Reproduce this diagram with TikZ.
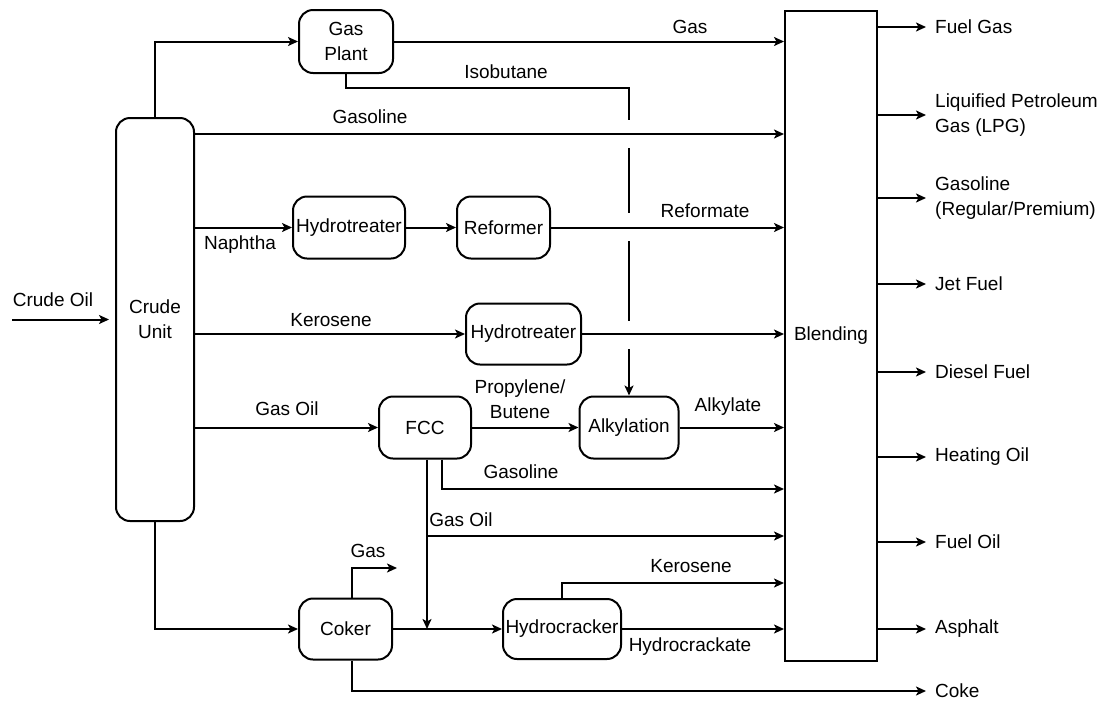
\documentclass[tikz,border=0pt]{standalone}
\usepackage{fontspec}
\setmainfont{Liberation Sans}
\usetikzlibrary{arrows.meta,calc}
\begin{document}
\begin{tikzpicture}[x=1pt,y=-1pt,
  every node/.style={font=\fontsize{19}{25}\selectfont, inner sep=0pt, align=center},
  unit/.style={draw, line width=2pt, rounded corners=14pt},
  blendbox/.style={draw, line width=2pt},
  flow/.style={line width=2pt},
  arr/.style={flow, -{Stealth[length=10pt,width=9pt,inset=2.5pt]}},
  outlabel/.style={anchor=west, inner xsep=9pt, align=left}
]
\useasboundingbox (0,0) rectangle (1108,702);

% units
\node[unit, minimum width=78pt, minimum height=403pt] (cu) at (155,319.5) {Crude\\Unit};
\node[unit, minimum width=94pt, minimum height=63pt] (gp) at (346,41.5) {Gas\\Plant};
\node[unit, minimum width=112pt, minimum height=62pt] (ht1) at (349,227.5) {Hydrotreater};
\node[unit, minimum width=93pt, minimum height=62pt] (rf) at (503.5,227.5) {Reformer};
\node[unit, minimum width=115pt, minimum height=61pt] (ht2) at (523.5,334) {Hydrotreater};
\node[unit, minimum width=92pt, minimum height=62pt] (fcc) at (425,427.5) {FCC};
\node[unit, minimum width=99pt, minimum height=62pt] (alk) at (629,427.5) {Alkylation};
\node[unit, minimum width=93pt, minimum height=61pt] (cok) at (345.5,629) {Coker};
\node[unit, minimum width=118pt, minimum height=60pt] (hc) at (562,629) {Hydrocracker};
\node[blendbox, minimum width=92pt, minimum height=650pt] (bl) at (831,336) {Blending};

% outputs
\node[outlabel] (o1) at (926,27) {Fuel Gas};
\node[outlabel] (o2) at (926,115) {Liquified Petroleum\\Gas (LPG)};
\node[outlabel] (o3) at (926,198) {Gasoline\\(Regular/Premium)};
\node[outlabel] (o4) at (926,284) {Jet Fuel};
\node[outlabel] (o5) at (926,372) {Diesel Fuel};
\node[outlabel] (o6) at (926,457) {Heating Oil};
\node[outlabel] (o7) at (926,542) {Fuel Oil};
\node[outlabel] (o8) at (926,629) {Asphalt};
\node[outlabel] (o9) at (926,691) {Coke};
\foreach \i in {1,...,8} { \draw[arr] (bl.east |- o\i.west) -- (o\i.west); }

% helper coordinates
\coordinate (cstart) at (12,319.5);
\coordinate (lvgas) at (0,134);
\coordinate (ib) at (629,88);
\coordinate (ib1) at (629,120);
\coordinate (ib2) at (629,148);
\coordinate (ib3) at (629,213);
\coordinate (ib4) at (629,241);
\coordinate (ib5) at (629,321);
\coordinate (ib6) at (629,349);
\coordinate (lvfg) at (0,489);
\coordinate (lvgo) at (0,536);
\coordinate (lvk) at (0,583);
\coordinate (cokgas) at (397,568);

% crude oil in
\draw[arr, shorten >=6pt] (cstart) -- (cu.west);
\node at (53,300) {Crude Oil};

% gas plant
\draw[arr] (cu.north) |- (gp.west);
\draw[arr] (gp.east) -- (bl.west |- gp.east);
\node at (690,27) {Gas};
\draw[flow] (gp.south) |- (ib) -- (ib1);
\draw[flow] (ib2) -- (ib3);
\draw[flow] (ib4) -- (ib5);
\draw[arr] (ib6) -- (alk.north);
\node at (506,72) {Isobutane};

% gasoline
\draw[arr] (cu.east |- lvgas) -- (bl.west |- lvgas);
\node at (370,117) {Gasoline};

% naphtha
\draw[arr] (cu.east |- ht1.west) -- (ht1.west);
\node at (240,245) {Naphtha};
\draw[arr] (ht1.east) -- (rf.west);
\draw[arr] (rf.east) -- (bl.west |- rf.east);
\node at (705,211) {Reformate};

% kerosene
\draw[arr] (cu.east |- ht2.west) -- (ht2.west);
\node at (331,320) {Kerosene};
\draw[arr] (ht2.east) -- (bl.west |- ht2.east);

% gas oil / FCC
\draw[arr] (cu.east |- fcc.west) -- (fcc.west);
\node at (287,409) {Gas Oil};
\draw[arr] (fcc.east) -- (alk.west);
\node at (520,399) {Propylene/\\Butene};
\draw[arr] (alk.east) -- (bl.west |- alk.east);
\node at (728,407) {Alkylate};
\draw[arr] ([xshift=17pt]fcc.south) |- (bl.west |- lvfg);
\node at (521,472) {Gasoline};
\draw[arr] ([xshift=2pt]fcc.south) -- ([xshift=2pt]fcc.south |- cok.east);
\draw[arr] ([xshift=2pt]fcc.south |- lvgo) -- (bl.west |- lvgo);
\node at (461,520) {Gas Oil};

% coker
\draw[arr] (cu.south) |- (cok.west);
\draw[arr] (cok.east) -- (hc.west);
\draw[arr] ([xshift=6pt]cok.north) |- (cokgas);
\node at (368,551) {Gas};
\draw[arr] ([xshift=6pt]cok.south) |- (o9.west);

% hydrocracker
\draw[arr] (hc.north) |- (bl.west |- lvk);
\node at (691,566) {Kerosene};
\draw[arr] (hc.east) -- (bl.west |- hc.east);
\node at (690,647) {Hydrocrackate};
\end{tikzpicture}
\end{document}
